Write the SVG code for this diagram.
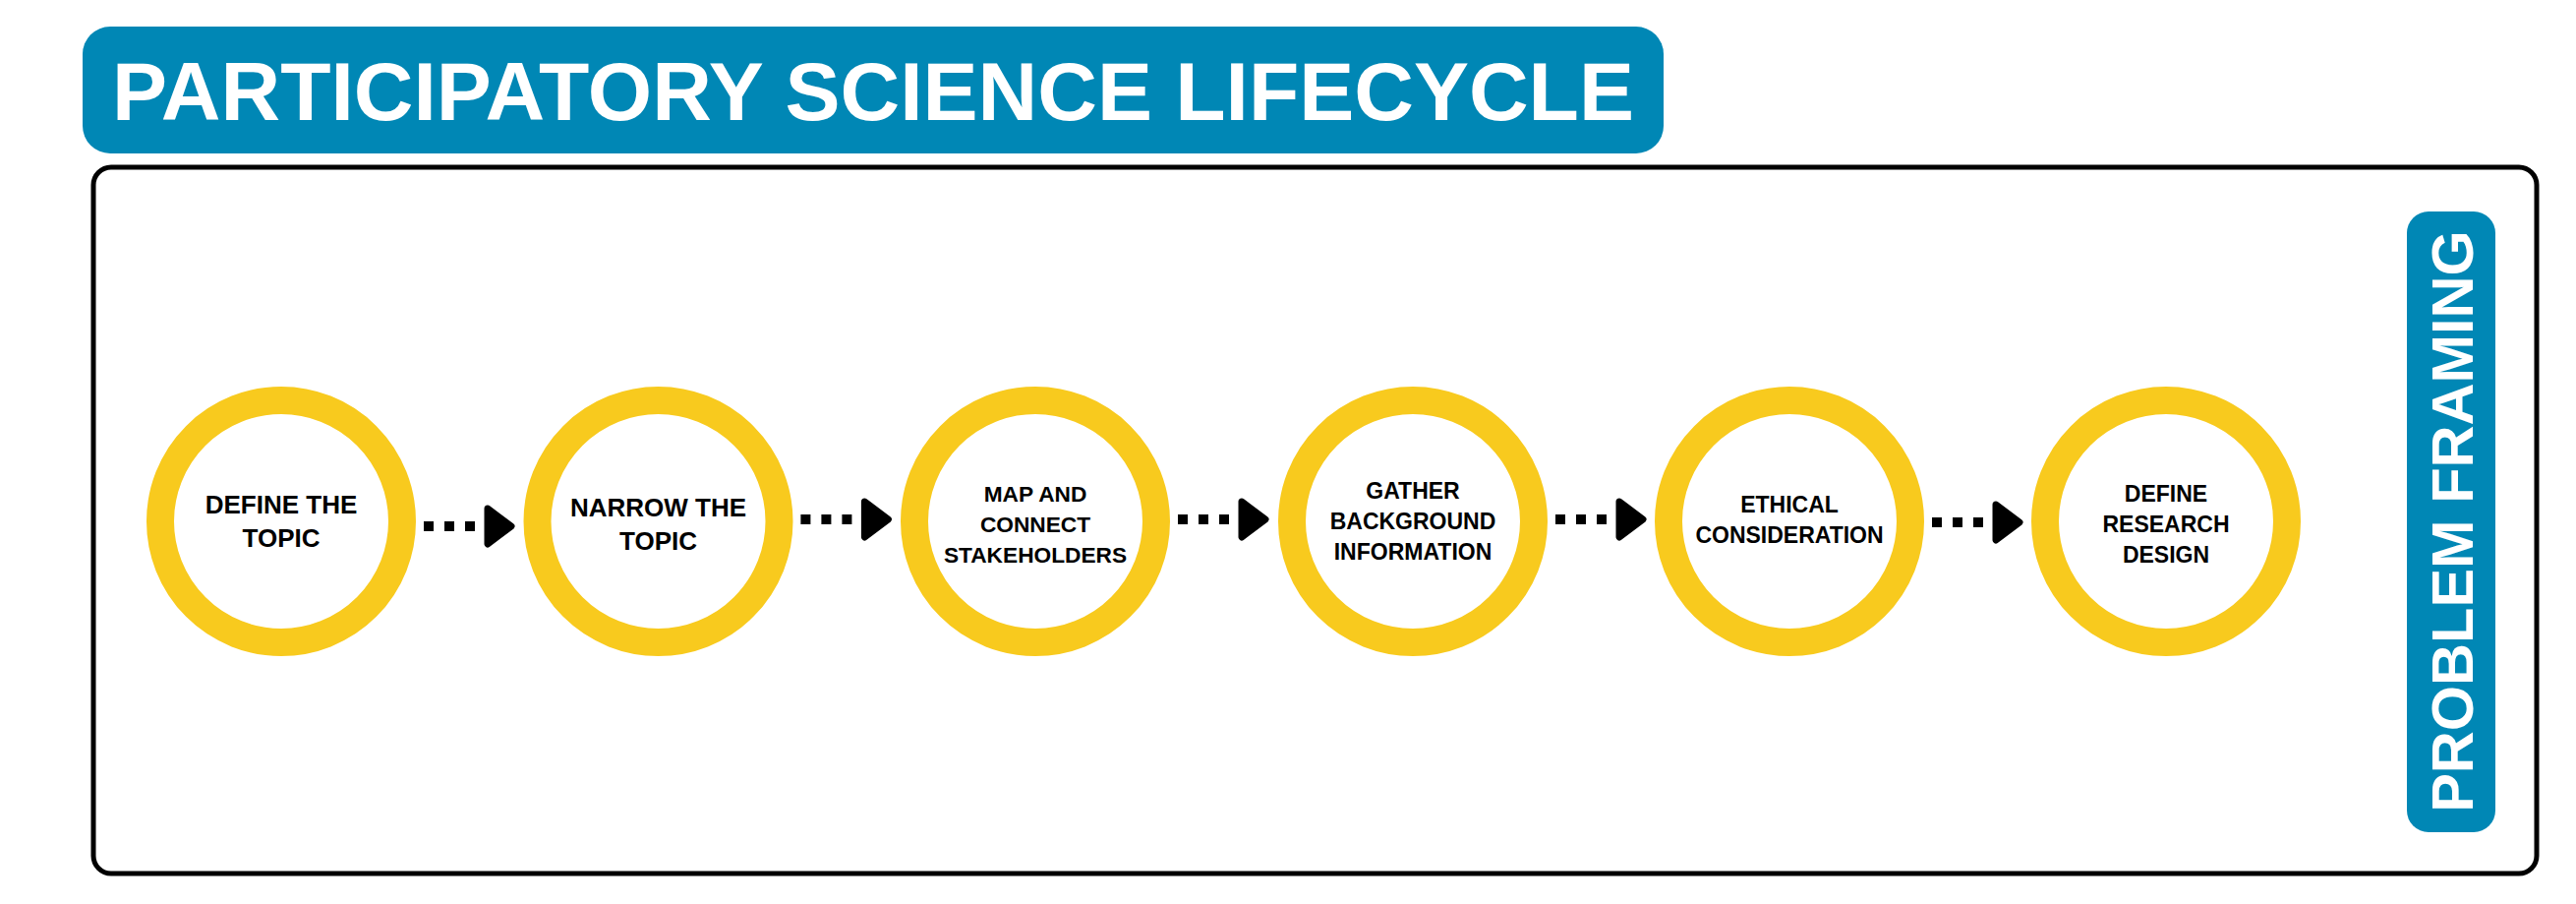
<svg xmlns="http://www.w3.org/2000/svg" width="2620" height="919" viewBox="0 0 2620 919">
<style>
.ring{fill:#ffffff;stroke:#F8CA1E;stroke-width:28}
.lbl{font-family:"Liberation Sans",Arial,sans-serif;font-weight:bold;fill:#000000;text-anchor:middle}
.dots{stroke:#000000;stroke-width:10;stroke-dasharray:10 11;fill:none}
.head{fill:#000000;stroke:#000000;stroke-width:7;stroke-linejoin:round}
.wt{font-family:"Liberation Sans",Arial,sans-serif;font-weight:bold;fill:#ffffff;text-anchor:middle}
</style>
<rect width="2620" height="919" fill="#ffffff"/>
<g id="title">
<rect x="84" y="27" width="1608" height="129" rx="28" fill="#0087B5"/>
<text class="wt" x="888" y="122" font-size="84">PARTICIPATORY SCIENCE LIFECYCLE</text>
</g>
<g id="frame">
<rect x="95" y="170" width="2485" height="718" rx="18" fill="none" stroke="#000000" stroke-width="5"/>
</g>
<g id="phase">
<rect x="2448" y="215" width="90" height="631" rx="22" fill="#0087B5"/>
<text class="wt" transform="translate(2515,530) rotate(-90)" font-size="59.5">PROBLEM FRAMING</text>
</g>
<g id="connectors">
<path class="dots" d="M431 535H483"/><polygon class="head" points="496,517 520,535 496,553"/>
<path class="dots" d="M814.4 528H866.4"/><polygon class="head" points="879.4,510 903.4,528 879.4,546"/>
<path class="dots" d="M1198 528H1250"/><polygon class="head" points="1263,510 1287,528 1263,546"/>
<path class="dots" d="M1582 528H1634"/><polygon class="head" points="1647,510 1671,528 1647,546"/>
<path class="dots" d="M1965 531H2017"/><polygon class="head" points="2030,513 2054,531 2030,549"/>
</g>
<g id="n1">
<circle class="ring" cx="286" cy="530" r="123"/>
<text class="lbl" font-size="26" x="286" y="522">DEFINE THE</text>
<text class="lbl" font-size="26" x="286" y="556">TOPIC</text>
</g>
<g id="n2">
<circle class="ring" cx="669.5" cy="530" r="123"/>
<text class="lbl" font-size="26" x="669.5" y="525">NARROW THE</text>
<text class="lbl" font-size="26" x="669.5" y="559">TOPIC</text>
</g>
<g id="n3">
<circle class="ring" cx="1053" cy="530" r="123"/>
<text class="lbl" font-size="22.7" x="1053" y="510">MAP AND</text>
<text class="lbl" font-size="22.7" x="1053" y="541">CONNECT</text>
<text class="lbl" font-size="22.7" x="1053" y="572">STAKEHOLDERS</text>
</g>
<g id="n4">
<circle class="ring" cx="1437" cy="530" r="123"/>
<text class="lbl" font-size="23" x="1437" y="507">GATHER</text>
<text class="lbl" font-size="23" x="1437" y="538">BACKGROUND</text>
<text class="lbl" font-size="23" x="1437" y="569">INFORMATION</text>
</g>
<g id="n5">
<circle class="ring" cx="1820" cy="530" r="123"/>
<text class="lbl" font-size="23" x="1820" y="521">ETHICAL</text>
<text class="lbl" font-size="23" x="1820" y="552">CONSIDERATION</text>
</g>
<g id="n6">
<circle class="ring" cx="2203" cy="530" r="123"/>
<text class="lbl" font-size="23" x="2203" y="510">DEFINE</text>
<text class="lbl" font-size="23" x="2203" y="541">RESEARCH</text>
<text class="lbl" font-size="23" x="2203" y="572">DESIGN</text>
</g>
</svg>
